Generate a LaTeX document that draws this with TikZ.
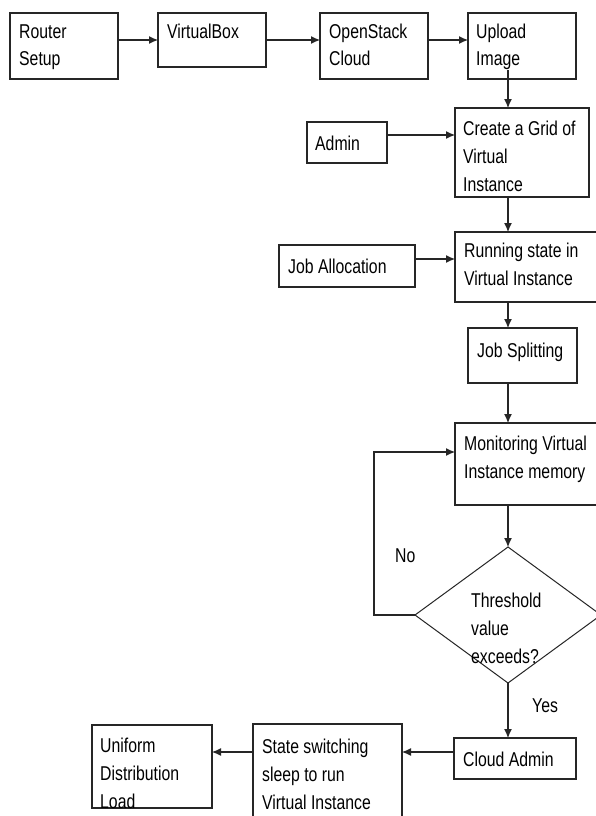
\documentclass[tikz,border=0pt]{standalone}
\usepackage{fontspec}
\setmainfont{Liberation Sans}[FakeStretch=0.79]
\usetikzlibrary{arrows.meta,calc,shapes.geometric}
\begin{document}
\begin{tikzpicture}[x=1pt,y=-1pt,
  box/.style={draw=black!85, line width=1.1pt, inner sep=0pt, outer sep=0pt, anchor=north west},
  txt/.style={anchor=base west, align=left, inner sep=0pt, text=black, font=\fontsize{20}{28}\selectfont},
  arr/.style={draw=black!85, line width=1.1pt, -{Latex[length=9pt,width=8pt]}},
  decision/.style={draw=black!85, line width=1pt, diamond, inner sep=0pt, outer sep=0pt, minimum width=186pt, minimum height=136pt}]
\useasboundingbox (0,0) rectangle (596,816);
\clip (0,0) rectangle (596,816);
\fill[white] (0,0) rectangle (596,816);
% boxes
\node[box, minimum width=108pt, minimum height=66pt] (router) at (10,13) {};
\node[box, minimum width=108pt, minimum height=54pt] (vbox) at (158,13) {};
\node[box, minimum width=108pt, minimum height=66pt] (openstack) at (320,13) {};
\node[box, minimum width=108pt, minimum height=66pt] (upload) at (468,13) {};
\node[box, minimum width=134pt, minimum height=89pt] (grid) at (455,108) {};
\node[box, minimum width=80pt, minimum height=41pt] (admin) at (307,122) {};
\node[box, minimum width=136pt, minimum height=42pt] (joballoc) at (279,245) {};
\node[box, minimum width=145pt, minimum height=70pt] (running) at (455,232) {};
\node[box, minimum width=109pt, minimum height=55pt] (jobsplit) at (468,328) {};
\node[box, minimum width=145pt, minimum height=82pt] (monitor) at (455,423) {};
\node[decision] (dia) at (508,615) {};
\node[box, minimum width=122pt, minimum height=41pt] (cloudadmin) at (454,738) {};
\node[box, minimum width=149pt, minimum height=98pt] (state) at (253,724) {};
\node[box, minimum width=120pt, minimum height=83pt] (uniform) at (92,725) {};
% texts (anchored at the baseline of their last line)
\node[txt] (t-router) at (19,66) {Router\\Setup};
\node[txt] (t-vbox) at (167,38) {VirtualBox};
\node[txt] (t-openstack) at (329,66) {OpenStack\\Cloud};
\node[txt] (t-upload) at (476,66) {Upload\\Image};
\node[txt] (t-grid) at (463,191) {Create a Grid of\\Virtual\\Instance};
\node[txt] (t-admin) at (315,150) {Admin};
\node[txt] (t-joballoc) at (288,273) {Job Allocation};
\node[txt] (t-running) at (464,285) {Running state in\\Virtual Instance};
\node[txt] (t-jobsplit) at (477,357) {Job Splitting};
\node[txt] (t-monitor) at (464,478) {Monitoring Virtual\\Instance memory};
\node[txt] (t-dia) at (471,663) {Threshold\\value\\exceeds?};
\node[txt] (t-cloudadmin) at (463,766) {Cloud Admin};
\node[txt] (t-state) at (262,809) {State switching\\sleep to run\\Virtual Instance};
\node[txt] (t-uniform) at (100,808) {Uniform\\Distribution\\Load};
\node[txt] (t-no) at (395,562) {No};
\node[txt] (t-yes) at (532,712) {Yes};
% connectors
\coordinate (spine) at (508,0);
\coordinate (loopc) at (374,615);
\draw[arr] (router.east |- vbox.west) -- (vbox.west);
\draw[arr] (vbox.east) -- (vbox.east -| openstack.west);
\draw[arr] (openstack.east |- vbox.east) -- (upload.west |- vbox.east);
\draw[arr] ([yshift=9pt]upload.south -| spine) -- (grid.north -| spine);
\draw[arr] ([yshift=7.5pt]admin.east) -- ([yshift=7.5pt]admin.east -| grid.west);
\draw[arr] (grid.south -| spine) -- (running.north -| spine);
\draw[arr] ([yshift=7pt]joballoc.east) -- ([yshift=7pt]joballoc.east -| running.west);
\draw[arr] (running.south -| spine) -- (jobsplit.north -| spine);
\draw[arr] (jobsplit.south -| spine) -- (monitor.north -| spine);
\draw[arr] (monitor.south -| spine) -- (dia.north);
\draw[arr] (dia.south) -- (cloudadmin.north -| spine);
\draw[arr] (dia.west) -- (loopc) |- ([yshift=12pt]monitor.west);
\draw[arr] ([yshift=6.5pt]cloudadmin.west) -- ([yshift=6.5pt]cloudadmin.west -| state.east);
\draw[arr] ([yshift=6.5pt]cloudadmin.west -| state.west) -- ([yshift=6.5pt]cloudadmin.west -| uniform.east);
\end{tikzpicture}
\end{document}
